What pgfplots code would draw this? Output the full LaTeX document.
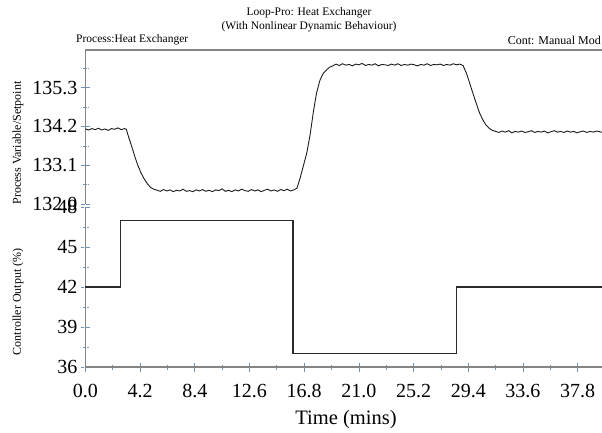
\documentclass[border=0pt]{standalone}
\usepackage{fontspec}
\setmainfont{Liberation Serif}
\usepackage{pgfplots}
\pgfplotsset{compat=1.18}
\definecolor{tickblue}{HTML}{6F93B8}
\definecolor{axgray}{HTML}{858585}
\definecolor{pvcol}{HTML}{1C1C1C}
\definecolor{opcol}{HTML}{2A2A2A}
\pgfplotsset{
  common/.style={
    scale only axis, width=520.9pt, xmin=0, xmax=40,
    axis line style={axgray, line width=1.3pt},
    tick style={tickblue, densely dotted, line width=0.7pt},
    tick align=center,
    major tick length=9pt, minor tick length=5pt,
    /pgf/number format/assume math mode=true,
    ticklabel style={font=\fontsize{20}{20}\selectfont, text=black},
    clip=false,
  }
}
\begin{document}
\begin{tikzpicture}
\useasboundingbox (0pt,0pt) rectangle (602pt,432pt);
% top panel
\begin{axis}[common, at={(85.4pt,228pt)}, anchor=south west, height=154pt,
  ymin=132, ymax=136.37,
  axis x line*=top, axis y line*=left, xtick=\empty,
  ytick={132,133.1,134.2,135.3}, minor ytick={132.55,133.65,134.75,135.85},
  yticklabel style={/pgf/number format/fixed, /pgf/number format/fixed zerofill, /pgf/number format/precision=1},
]
\addplot[pvcol, line width=0.9pt] coordinates {
(0.00,134.13)(0.25,134.10)(0.50,134.14)(0.75,134.11)(1.00,134.15)(1.25,134.10)(1.50,134.13)(1.75,134.09)
(2.00,134.14)(2.25,134.12)(2.50,134.16)(2.75,134.11)(3.00,134.14)(3.15,134.12)
(3.25,133.98)(3.50,133.70)(3.75,133.40)(4.00,133.12)(4.25,132.90)(4.50,132.72)(4.75,132.58)(5.00,132.47)(5.25,132.42)(5.50,132.39)
(5.75,132.36)(6.00,132.41)(6.25,132.37)(6.50,132.40)(6.75,132.35)(7.00,132.39)(7.25,132.37)(7.50,132.42)
(7.75,132.36)(8.00,132.38)(8.25,132.35)(8.50,132.40)(8.75,132.37)(9.00,132.41)(9.25,132.36)(9.50,132.39)
(9.75,132.35)(10.00,132.40)(10.25,132.38)(10.50,132.43)(10.75,132.36)(11.00,132.39)(11.25,132.35)(11.50,132.40)
(11.75,132.37)(12.00,132.42)(12.25,132.38)(12.50,132.36)(12.75,132.41)(13.00,132.37)(13.25,132.40)(13.50,132.35)
(13.75,132.39)(14.00,132.42)(14.25,132.37)(14.50,132.40)(14.75,132.36)(15.00,132.41)(15.25,132.38)(15.50,132.42)
(15.75,132.37)(16.00,132.40)(16.25,132.45)
(16.50,132.75)(16.75,133.10)(17.00,133.45)(17.25,133.95)(17.50,134.60)(17.75,135.15)(18.00,135.50)(18.25,135.70)
(18.50,135.80)(18.75,135.88)(19.00,135.92)
(19.25,135.97)(19.50,135.93)(19.75,135.98)(20.00,135.94)(20.25,135.96)(20.50,135.92)(20.75,135.97)(21.00,135.95)
(21.25,135.99)(21.50,135.93)(21.75,135.96)(22.00,135.94)(22.25,135.98)(22.50,135.92)(22.75,135.96)(23.00,135.95)
(23.25,135.93)(23.50,135.97)(23.75,135.94)(24.00,135.98)(24.25,135.93)(24.50,135.96)(24.75,135.94)(25.00,135.97)
(25.25,135.95)(25.50,135.92)(25.75,135.96)(26.00,135.94)(26.25,135.98)(26.50,135.93)(26.75,135.96)(27.00,135.95)
(27.25,135.97)(27.50,135.93)(27.75,135.96)(28.00,135.94)(28.25,135.98)(28.50,135.95)(28.75,135.97)(29.00,135.93)
(29.25,135.72)(29.50,135.44)(29.75,135.15)(30.00,134.87)(30.25,134.60)(30.50,134.40)(30.75,134.25)(31.00,134.15)
(31.25,134.09)(31.50,134.06)
(31.75,134.03)(32.00,134.07)(32.25,134.04)(32.50,134.08)(32.75,134.02)(33.00,134.06)(33.25,134.04)(33.50,134.07)
(33.75,134.03)(34.00,134.05)(34.25,134.08)(34.50,134.03)(34.75,134.06)(35.00,134.04)(35.25,134.07)(35.50,134.02)
(35.75,134.05)(36.00,134.08)(36.25,134.04)(36.50,134.06)(36.75,134.03)(37.00,134.07)(37.25,134.04)(37.50,134.06)
(37.75,134.02)(38.00,134.05)(38.25,134.07)(38.50,134.03)(38.75,134.06)(39.00,134.04)(39.25,134.07)(39.50,134.05)
(39.75,134.03)(40.00,134.06)
};
\end{axis}
% bottom panel
\begin{axis}[common, at={(85.4pt,65pt)}, anchor=south west, height=160pt,
  ymin=36, ymax=48,
  axis x line*=bottom, axis y line*=left,
  xtick={0,4.2,8.4,12.6,16.8,21,25.2,29.4,33.6,37.8},
  xticklabels={0.0,4.2,8.4,12.6,16.8,21.0,25.2,29.4,33.6,37.8},
  minor xtick={2.1,6.3,10.5,14.7,18.9,23.1,27.3,31.5,35.7,39.9},
  ytick={36,39,42,45,48}, minor ytick={37.5,40.5,43.5,46.5},
  xticklabel style={yshift=-9pt},
]
\addplot[opcol, line width=1.3pt] coordinates {
(0,42)(2.7,42)(2.7,47)(15.95,47)(15.95,37)(28.5,37)(28.5,42)(40,42)
};
\end{axis}
% texts
\node[font=\fontsize{11.5}{12}\selectfont] at (309pt,419pt) {Loop-Pro: Heat Exchanger};
\node[font=\fontsize{11.5}{12}\selectfont] at (309pt,405pt) {(With Nonlinear Dynamic Behaviour)};
\node[font=\fontsize{11.5}{12}\selectfont, anchor=west, inner sep=0pt] at (76pt,392pt) {Process:Heat Exchanger};
\node[font=\fontsize{12}{12}\selectfont, anchor=east, inner sep=0pt] at (601pt,392pt) {Cont: Manual Mod};
\node[font=\fontsize{12}{12}\selectfont, rotate=90] at (18pt,289pt) {Process Variable/Setpoint};
\node[font=\fontsize{12}{12}\selectfont, rotate=90] at (18pt,130pt) {Controller Output (\%)};
\node[font=\fontsize{20.5}{21}\selectfont] at (346pt,12pt) {Time (mins)};
\end{tikzpicture}
\end{document}
